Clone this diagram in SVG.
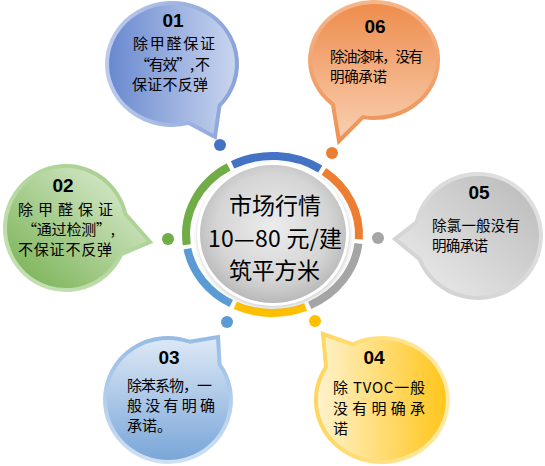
<svg xmlns="http://www.w3.org/2000/svg" width="545" height="466" viewBox="0 0 545 466">
<style>
.t{font-family:"Noto Sans CJK SC","Noto Sans",sans-serif;font-size:15px;fill:#000}
.n{font-family:"Liberation Sans",Arial,sans-serif;font-weight:bold;font-size:19px;fill:#000;text-anchor:middle}
.c{font-family:"Noto Sans CJK SC","Noto Sans",sans-serif;font-size:23px;fill:#000}
.arc{fill:none;stroke-width:8}
.b{stroke-width:4;stroke-linejoin:miter}
</style>
<defs>
<linearGradient id="f1" x1="0" y1="0" x2="1" y2="0"><stop offset="0" stop-color="#6888CF"/><stop offset="1" stop-color="#CAD6EF"/></linearGradient>
<linearGradient id="s1" x1="0" y1="0" x2="1" y2="0"><stop offset="0" stop-color="#BCCAEB"/><stop offset="1" stop-color="#8AA3D9"/></linearGradient>
<linearGradient id="f6" x1="0" y1="0" x2="0" y2="1"><stop offset="0" stop-color="#EE8C4C"/><stop offset="1" stop-color="#F9D0B3"/></linearGradient>
<linearGradient id="s6" x1="0" y1="0" x2="0" y2="1"><stop offset="0" stop-color="#F5B68A"/><stop offset="1" stop-color="#EE9254"/></linearGradient>
<linearGradient id="f2" x1="0" y1="1" x2="1" y2="0"><stop offset="0" stop-color="#72AE4C"/><stop offset="1" stop-color="#E6F2DE"/></linearGradient>
<linearGradient id="s2" x1="0" y1="1" x2="1" y2="0"><stop offset="0" stop-color="#C8E2B8"/><stop offset="1" stop-color="#A3CD88"/></linearGradient>
<linearGradient id="f5" x1="1" y1="0" x2="0" y2="1"><stop offset="0" stop-color="#B8B8B8"/><stop offset="1" stop-color="#EFEFEF"/></linearGradient>
<linearGradient id="s5" x1="1" y1="0" x2="0" y2="1"><stop offset="0" stop-color="#E2E2E2"/><stop offset="1" stop-color="#D0D0D0"/></linearGradient>
<linearGradient id="f3" x1="0" y1="0" x2="0" y2="1"><stop offset="0" stop-color="#DEE9F6"/><stop offset="1" stop-color="#78A5D8"/></linearGradient>
<linearGradient id="s3" x1="0" y1="0" x2="0" y2="1"><stop offset="0" stop-color="#96BCE6"/><stop offset="1" stop-color="#CFE0F3"/></linearGradient>
<linearGradient id="f4" x1="0" y1="0" x2="1" y2="0"><stop offset="0" stop-color="#FFF3CF"/><stop offset="1" stop-color="#FFC518"/></linearGradient>
<linearGradient id="s4" x1="0" y1="0" x2="1" y2="0"><stop offset="0" stop-color="#FFD75E"/><stop offset="1" stop-color="#FFEBA8"/></linearGradient>
<radialGradient id="gd" cx="0.5" cy="0.45" r="0.55"><stop offset="0" stop-color="#ECECEC"/><stop offset="0.7" stop-color="#D5D5D5"/><stop offset="1" stop-color="#B9B9B9"/></radialGradient>
<filter id="sh" x="-20%" y="-20%" width="140%" height="140%"><feGaussianBlur stdDeviation="2.5"/></filter>
</defs>
<rect width="545" height="466" fill="#FFFFFF"/>

<g id="node-center">
<path class="arc" stroke="#4472C4" d="M320.24,169.04 A86.5,78.5 0 0 0 232.56,164.87"/>
<path class="arc" stroke="#70AD47" d="M228.60,166.86 A86.5,78.5 0 0 0 186.74,244.74"/>
<path class="arc" stroke="#5B9BD5" d="M187.44,248.80 A86.5,78.5 0 0 0 231.22,303.49"/>
<path class="arc" stroke="#FFC000" d="M235.26,305.35 A86.5,78.5 0 0 0 305.60,307.03"/>
<path class="arc" stroke="#A5A5A5" d="M309.74,305.35 A86.5,78.5 0 0 0 358.45,243.39"/>
<path class="arc" stroke="#ED7D31" d="M358.84,239.29 A86.5,78.5 0 0 0 323.95,171.39"/>
<ellipse cx="273.5" cy="236" rx="76" ry="72" fill="#9A9A9A" opacity="0.5" filter="url(#sh)"/>
<ellipse cx="273" cy="234" rx="76" ry="72" fill="#FFFFFF"/>
<ellipse cx="273" cy="234" rx="73" ry="69" fill="url(#gd)"/>
<text class="c" x="229" y="214" textLength="92">市场行情</text>
<text class="c" x="208" y="247" textLength="134">10—80 元/建</text>
<text class="c" x="229" y="279" textLength="91">筑平方米</text>
</g>

<g id="connectors">
<circle cx="220" cy="145" r="6" fill="#4472C4"/>
<circle cx="332" cy="153" r="6" fill="#ED7D31"/>
<circle cx="378" cy="238" r="6" fill="#A5A5A5"/>
<circle cx="315" cy="321" r="6" fill="#FFC000"/>
<circle cx="227" cy="322" r="6" fill="#5B9BD5"/>
<circle cx="168" cy="239" r="6" fill="#70AD47"/>
</g>

<g id="node-01">
<path class="b" fill="url(#f1)" stroke="url(#s1)" d="M188.8,122.9 L215,137 L219.5,105.6 A65,61 0 1 0 188.8,122.9 Z"/>
<text class="n" x="173" y="27">01</text>
<text class="t" x="133" y="49" textLength="82">除甲醛保证</text>
<text class="t" x="135" y="70" textLength="75">“有效”, 不</text>
<text class="t" x="132" y="90" textLength="76">保证不反弹</text>
</g>

<g id="node-06">
<path class="b" fill="url(#f6)" stroke="url(#s6)" d="M332.9,104.4 L339,141 L362.9,117.1 A64,58 0 1 0 332.9,104.4 Z"/>
<text class="n" x="375" y="33">06</text>
<text class="t" x="330" y="62" textLength="93" style="font-size:14.5px">除油漆味，没有</text>
<text class="t" x="330" y="82" textLength="57" style="font-size:14.5px">明确承诺</text>
</g>

<g id="node-02">
<path class="b" fill="url(#f2)" stroke="url(#s2)" d="M125.4,214.05 L150,242 L121.3,254.2 A61,62 0 1 1 125.4,214.05 Z"/>
<text class="n" x="63" y="192">02</text>
<text class="t" x="18" y="215" textLength="95">除 甲 醛 保 证</text>
<text class="t" x="22" y="235" textLength="93">“通过检测”,</text>
<text class="t" x="18" y="255" textLength="94">不保证不反弹</text>
</g>

<g id="node-05">
<path class="b" fill="url(#f5)" stroke="url(#s5)" d="M416.6,222.05 L395,239 L419.6,259.2 A63,62 0 1 0 416.6,222.05 Z"/>
<text class="n" x="479" y="199">05</text>
<text class="t" x="432" y="231" textLength="88" style="font-size:14.5px">除氯一般没有</text>
<text class="t" x="432" y="251" textLength="56" style="font-size:14.5px">明确承诺</text>
</g>

<g id="node-03">
<path class="b" fill="url(#f3)" stroke="url(#s3)" d="M189.5,341.7 L218,337 L219.6,364.4 A63,62 0 1 1 189.5,341.7 Z"/>
<text class="n" x="169" y="364">03</text>
<text class="t" x="127" y="391" textLength="85">除苯系物，一</text>
<text class="t" x="127" y="411" textLength="88">般没有明确</text>
<text class="t" x="127" y="431">承诺。</text>
</g>

<g id="node-04">
<path class="b" fill="url(#f4)" stroke="url(#s4)" d="M353.1,344.3 L323,334 L326.0,367.1 A66,62 0 1 0 353.1,344.3 Z"/>
<text class="n" x="374" y="364">04</text>
<text class="t" x="333" y="393" textLength="92">除 TVOC一般</text>
<text class="t" x="333" y="414" textLength="92">没有明确承</text>
<text class="t" x="333" y="434">诺</text>
</g>
</svg>
